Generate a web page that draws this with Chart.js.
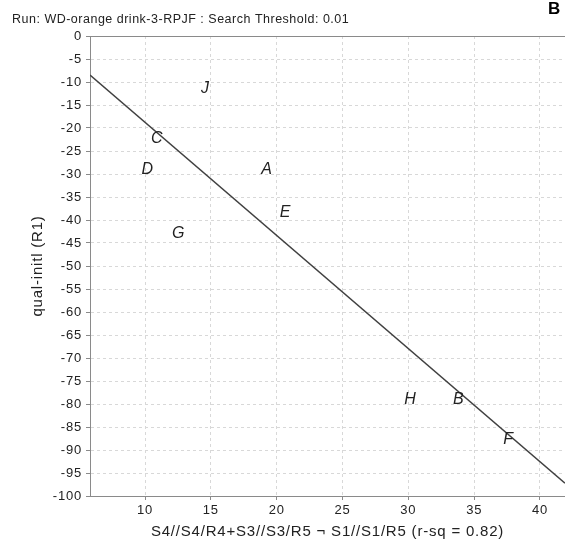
<!DOCTYPE html>
<html><head><meta charset="utf-8">
<script src="https://cdn.jsdelivr.net/npm/chart.js@4.4.1/dist/chart.umd.min.js"></script>
<style>html,body{margin:0;padding:0;background:#fff}#wrap{width:565px;height:541px;position:relative}</style>
</head><body><div id="wrap"><canvas id="c" width="565" height="541"></canvas></div>
<script>
const pointLabels = ["A","B","C","D","E","F","G","H","J"];
const pointX = [19.24, 33.79, 10.89, 10.18, 20.63, 37.59, 12.53, 30.12, 14.56];
const pointY = [-29.0, -79.1, -22.2, -29.1, -38.4, -87.8, -42.9, -79.1, -11.4];
const fitX = [5.82, 41.9];
const fitY = [-8.5, -97.2];
const xTicks = [10, 15, 20, 25, 30, 35, 40];
const yTicks = [0,-5,-10,-15,-20,-25,-30,-35,-40,-45,-50,-55,-60,-65,-70,-75,-80,-85,-90,-95,-100];
const titleText = "Run: WD-orange drink-3-RPJF : Search Threshold: 0.01";
const panelLetter = "B";
const xTitle = "S4//S4/R4+S3//S3/R5 \u00AC S1//S1/R5 (r-sq = 0.82)";
const yTitle = "qual-initl (R1)";

const FONT = "'Liberation Sans', Arial, sans-serif";

const labelPlugin = {
  id: 'labels',
  beforeInit(chart) { chart.ctx.letterSpacing = '0.8px'; },
  beforeDraw(chart) { chart.ctx.letterSpacing = '0.8px'; },
  afterDatasetsDraw(chart) {
    const ctx = chart.ctx;
    const meta = chart.getDatasetMeta(0);
    ctx.save();
    ctx.letterSpacing = '0px';
    ctx.font = "italic 16px " + FONT;
    ctx.fillStyle = "#222";
    ctx.textAlign = "center";
    ctx.textBaseline = "middle";
    meta.data.forEach((pt, i) => {
      ctx.fillText(pointLabels[i], pt.x, pt.y);
    });
    ctx.restore();
  },
  afterDraw(chart) {
    const ctx = chart.ctx;
    const a = chart.chartArea;
    ctx.save();
    ctx.strokeStyle = "#8a8a8a";
    ctx.lineWidth = 1;
    ctx.beginPath();
    ctx.moveTo(a.left, a.top + 0.5);
    ctx.lineTo(a.right, a.top + 0.5);
    ctx.stroke();
    ctx.fillStyle = "#222";
    ctx.textBaseline = "middle";
    ctx.textAlign = "left";
    ctx.letterSpacing = '0.5px';
    ctx.font = "12.5px " + FONT;
    ctx.fillText(titleText, 12, 20);
    ctx.letterSpacing = '0px';
    ctx.font = "bold 17px " + FONT;
    ctx.fillStyle = "#000";
    ctx.fillText(panelLetter, 548, 9);
    ctx.restore();
  }
};

new Chart(document.getElementById('c'), {
  type: 'scatter',
  data: {
    datasets: [
      {
        label: 'points',
        data: pointX.map((x, i) => ({x: x, y: pointY[i]})),
        pointRadius: 0,
        pointHoverRadius: 0,
        showLine: false
      },
      {
        label: 'fit',
        type: 'line',
        data: fitX.map((x, i) => ({x: x, y: fitY[i]})),
        borderColor: '#404040',
        borderWidth: 1.5,
        pointRadius: 0,
        fill: false,
        tension: 0
      }
    ]
  },
  options: {
    responsive: false,
    animation: false,
    events: [],
    layout: { padding: { top: 36, left: 0, right: 0, bottom: 0 } },
    plugins: { legend: { display: false }, tooltip: { enabled: false }, title: { display: false } },
    scales: {
      x: {
        type: 'linear',
        min: 5.82, max: 41.9,
        afterBuildTicks: s => { s.ticks = xTicks.map(v => ({value: v})); },
        afterFit: s => { s.height = 45; },
        border: { display: true, color: '#8a8a8a', width: 1, dash: [3, 3] },
        grid: { color: '#d8d8d8', tickLength: 4, tickColor: '#8a8a8a', tickBorderDash: [], drawTicks: true },
        ticks: { font: { family: FONT, size: 13 }, color: '#222', padding: 3, maxRotation: 0 },
        title: { display: true, text: xTitle, font: { family: FONT, size: 15 }, color: '#222', padding: { top: 0, bottom: 0 } }
      },
      y: {
        type: 'linear',
        min: -100, max: 0,
        afterBuildTicks: s => { s.ticks = yTicks.map(v => ({value: v})); },
        afterFit: s => { s.width = 90; },
        border: { display: true, color: '#8a8a8a', width: 1, dash: [3, 3] },
        grid: { color: '#d8d8d8', tickLength: 4, tickColor: '#8a8a8a', tickBorderDash: [], drawTicks: true },
        ticks: { font: { family: FONT, size: 13 }, color: '#222', padding: 4, autoSkip: false },
        title: { display: true, text: yTitle, font: { family: FONT, size: 15 }, color: '#222', padding: { top: 29, bottom: 0 } }
      }
    }
  },
  plugins: [labelPlugin]
});
</script></body></html>
